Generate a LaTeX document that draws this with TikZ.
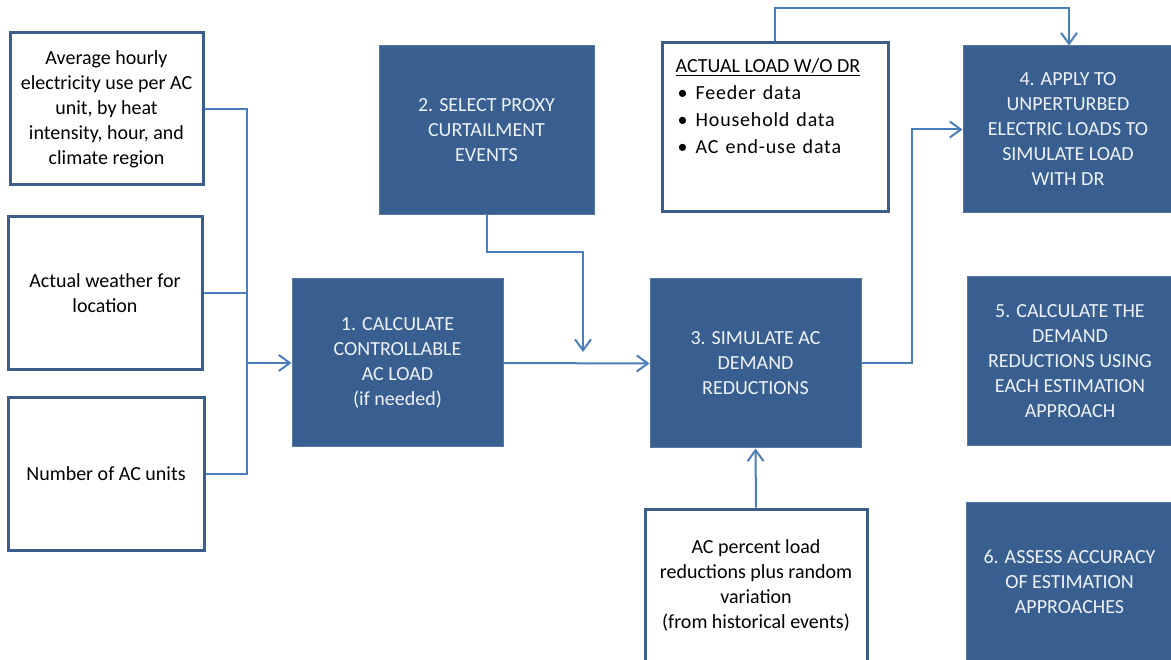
\documentclass[tikz,border=0pt]{standalone}
\usepackage{fontspec}
\setmainfont{Carlito}
\usetikzlibrary{arrows.meta}
\definecolor{boxfill}{HTML}{385F8F}
\definecolor{boxline}{HTML}{3B5E8C}
\definecolor{conn}{HTML}{4A7EBB}
\definecolor{boxtext}{HTML}{EEF2F8}
\tikzset{
  inbox/.style={draw=boxline, line width=3pt, fill=white, align=center, inner sep=0pt,
    font=\fontsize{20}{25}\selectfont, text=black},
  stepbox/.style={draw=boxfill!85!white, line width=1pt, fill=boxfill, align=center, inner sep=0pt,
    font=\fontsize{20}{25}\selectfont, text=boxtext},
  conline/.style={draw=conn, line width=2pt},
  arr/.style={conline, -{Straight Barb[length=11pt,width=16pt,line width=2pt]}},
}
\newcommand{\bulletline}[1]{{\addfontfeatures{LetterSpace=4}\spaceskip=7pt\hspace*{2pt}\makebox[18pt][l]{\textbullet}#1}}
\begin{document}
\begin{tikzpicture}[x=1pt,y=-1pt]
\useasboundingbox (0,0) rectangle (1171,660);
% input boxes
\node[inbox, minimum width=193pt, minimum height=152pt] (avg) at (106.5,109) {Average hourly\\electricity use per AC\\unit, by heat\\intensity, hour, and\\climate region};
\node[inbox, minimum width=194pt, minimum height=153pt] (wea) at (105,293.5) {Actual weather for\\location};
\node[inbox, minimum width=196pt, minimum height=152pt] (num) at (106,474) {Number of AC units};
% step boxes
\node[stepbox, minimum width=211pt, minimum height=168pt] (s1) at (397.5,363) {1. CALCULATE\\CONTROLLABLE\\AC LOAD\\(if needed)};
\node[stepbox, minimum width=215pt, minimum height=169pt] (s2) at (486.5,130.5) {2. SELECT PROXY\\CURTAILMENT\\EVENTS};
\node[stepbox, minimum width=211pt, minimum height=169pt] (s3) at (755.5,363.5) {3. SIMULATE AC\\DEMAND\\REDUCTIONS};
\node[stepbox, minimum width=210pt, minimum height=167pt] (s4) at (1068,129.5) {4. APPLY TO\\UNPERTURBED\\ELECTRIC LOADS TO\\SIMULATE LOAD\\WITH DR};
\node[stepbox, minimum width=206pt, minimum height=169pt] (s5) at (1070,361.5) {5. CALCULATE THE\\DEMAND\\REDUCTIONS USING\\EACH ESTIMATION\\APPROACH};
\node[stepbox, minimum width=207pt, minimum height=160pt] (s6) at (1069.5,582) {6. ASSESS ACCURACY\\OF ESTIMATION\\APPROACHES};
% load box
\node[inbox, minimum width=226pt, minimum height=169pt] (load) at (775,127.5) {};
\node[anchor=north west, align=left, inner sep=0pt, font=\fontsize{20}{27}\selectfont, text=black]
  (loadtxt) at ([xshift=15pt,yshift=-17pt]load.north west)
  {\underline{ACTUAL LOAD W/O DR}\\
   \bulletline{Feeder data}\\
   \bulletline{Household data}\\
   \bulletline{AC end-use data}};
% AC percent box
\node[inbox, minimum width=222pt, minimum height=153pt] (pct) at (756,585.5) {AC percent load\\reductions plus random\\variation\\(from historical events)};
% connectors
\coordinate (bus) at (247,363);
\draw[conline] (avg.east) -| (bus);
\draw[conline] (wea.east) -| (bus);
\draw[conline] (num.east) -| (bus);
\draw[arr] (bus) -- (s1.west);
\draw[arr] (s1.east) -- (s3.west);
\coordinate (drop) at (583,352);
\draw[arr] (s2.south) -- ++(0,37) -| (drop);
\draw[arr] (s3.east) -- ++(50,0) |- (s4.west);
\draw[arr] (load.north) -- ++(0,-33) -| ([xshift=1pt]s4.north);
\draw[arr] (pct.north) -- (s3.south);
\end{tikzpicture}
\end{document}
